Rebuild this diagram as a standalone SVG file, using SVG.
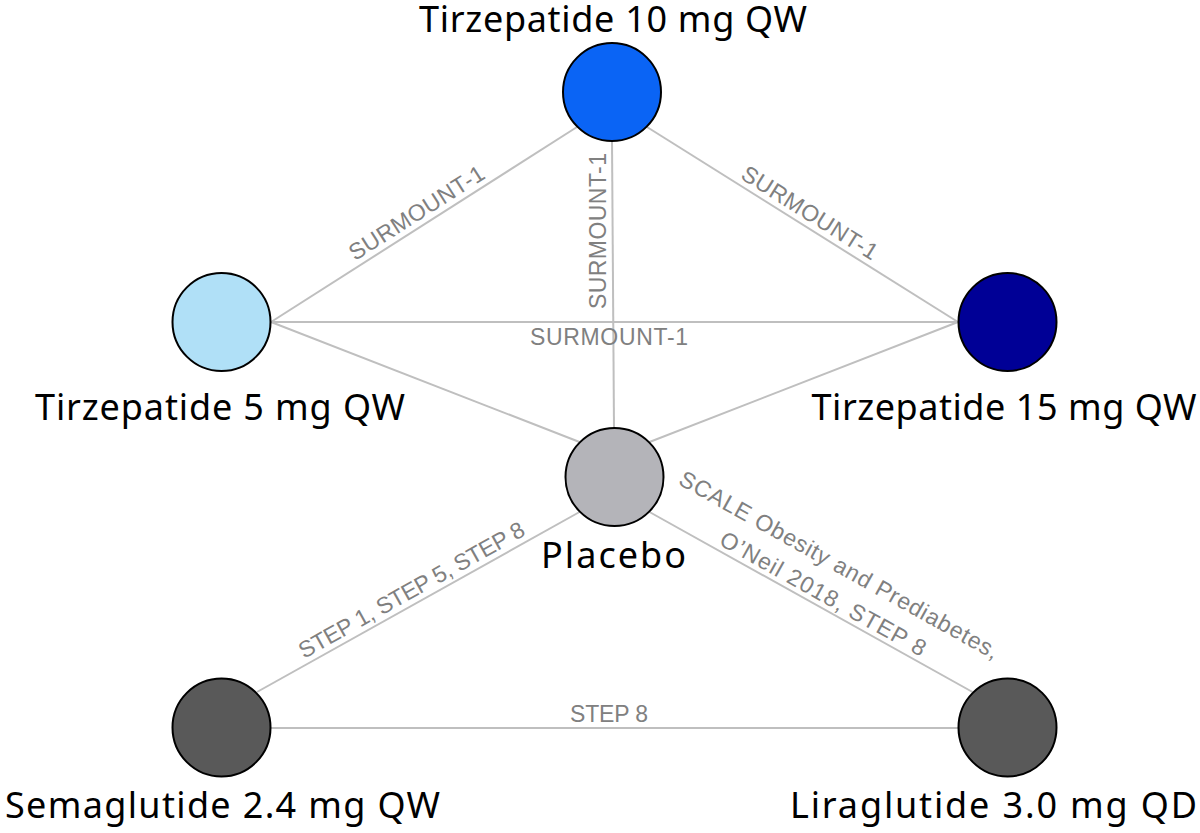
<svg xmlns="http://www.w3.org/2000/svg" width="1200" height="833" viewBox="0 0 1200 833">
<style>
.edge{stroke:#bfbfbf;stroke-width:2;fill:none}
.node{stroke:#000;stroke-width:2}
.nl{font-family:"Noto Sans","Open Sans",sans-serif;font-size:36px;fill:#000;text-anchor:middle}
.el{font-family:"Liberation Sans",Arial,sans-serif;font-size:23px;fill:#808080;text-anchor:middle}
</style>
<rect width="1200" height="833" fill="#fff"/>
<g id="connectors">
<line class="edge" x1="271" y1="322" x2="577" y2="127"/>
<line class="edge" x1="647" y1="127" x2="958" y2="322"/>
<line class="edge" x1="612" y1="141" x2="614" y2="428"/>
<line class="edge" x1="271" y1="322" x2="958" y2="322"/>
<line class="edge" x1="271" y1="322" x2="579.5" y2="442"/>
<line class="edge" x1="649.5" y1="442" x2="958" y2="322"/>
<line class="edge" x1="579.5" y1="512" x2="257" y2="692"/>
<line class="edge" x1="649.5" y1="512" x2="972.5" y2="692"/>
<line class="edge" x1="271" y1="728" x2="958" y2="728"/>
<g id="edge-labels">
<text class="el" transform="translate(424,224.5) rotate(-32.5)" y="-6" textLength="156">SURMOUNT-1</text>
<text class="el" transform="translate(802.5,224.5) rotate(32.1)" y="-6" textLength="156">SURMOUNT-1</text>
<text class="el" transform="translate(606,231) rotate(-90)" textLength="156">SURMOUNT-1</text>
<text class="el" x="609" y="345" textLength="158">SURMOUNT-1</text>
<text class="el" transform="translate(418.25,602) rotate(-29.2)" y="-6" textLength="255">STEP 1, STEP 5, STEP 8</text>
<g transform="translate(817,605) rotate(29.1)">
<text class="el" y="-38" textLength="362">SCALE Obesity and Prediabetes,</text>
<text class="el" y="-5" textLength="232">O’Neil 2018, STEP 8</text>
</g>
<text class="el" x="609" y="722" textLength="78">STEP 8</text>
</g>
</g>
<g id="node-tirz10">
<circle class="node" cx="612" cy="92" r="49" fill="#0a64f5"/>
<text class="nl" x="613" y="32" textLength="388">Tirzepatide 10 mg QW</text>
</g>
<g id="node-tirz5">
<circle class="node" cx="221.5" cy="322" r="49" fill="#b0e0f7"/>
<text class="nl" x="220" y="420" textLength="370">Tirzepatide 5 mg QW</text>
</g>
<g id="node-tirz15">
<circle class="node" cx="1007.5" cy="322" r="49" fill="#000096"/>
<text class="nl" x="1004" y="420" textLength="385">Tirzepatide 15 mg QW</text>
</g>
<g id="node-placebo">
<circle class="node" cx="614.5" cy="477" r="49" fill="#b4b4b9"/>
<text class="nl" x="613.5" y="568" textLength="145">Placebo</text>
</g>
<g id="node-sema">
<circle class="node" cx="221.5" cy="727.5" r="49" fill="#595959"/>
<text class="nl" x="222.5" y="818" textLength="435">Semaglutide 2.4 mg QW</text>
</g>
<g id="node-lira">
<circle class="node" cx="1007.5" cy="727.5" r="49" fill="#595959"/>
<text class="nl" x="993.5" y="818" textLength="407">Liraglutide 3.0 mg QD</text>
</g>
</svg>
